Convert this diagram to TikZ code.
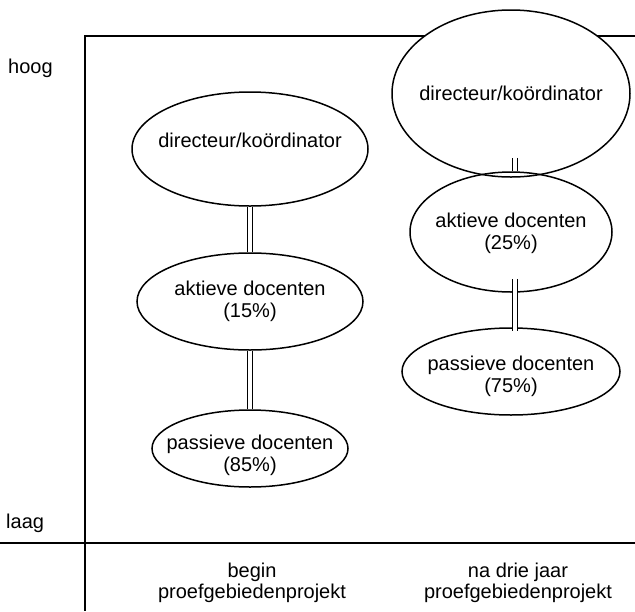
\documentclass[tikz,border=0pt]{standalone}
\usepackage{fontspec}
\setmainfont{Liberation Sans}
\usetikzlibrary{shapes.geometric}
\begin{document}
\begin{tikzpicture}[x=1pt,y=-1pt,
  oval/.style={ellipse,draw,line width=1.5pt,inner sep=0pt},
  txt/.style={font=\fontsize{20}{22}\selectfont,align=center,inner sep=0pt},
  dbl/.style={draw,line width=1.5pt,double=white,double distance=3.5pt},
  axis/.style={line width=1.2pt},
  lbl/.style={font=\fontsize{20}{21}\selectfont,align=center,inner sep=0pt}]
\useasboundingbox (0,0) rectangle (635,611);
% frame
\coordinate (tl) at (85,36);
\coordinate (tr) at (635,36);
\coordinate (bl) at (85,611);
\coordinate (al) at (0,543);
\coordinate (ar) at (635,543);
\draw[axis] (tr) -- (tl) -- (bl);
\draw[line width=1.8pt] (al) -- (ar);
\node[lbl,anchor=base west] (hoog) at (8,73) {hoog};
\node[lbl,anchor=base west] (laag) at (6,528) {laag};
% left column
\node[oval,minimum width=236pt,minimum height=114pt] (dL) at (250,149) {};
\node[oval,minimum width=226pt,minimum height=97pt] (aL) at (250,301.5) {};
\node[oval,minimum width=196pt,minimum height=77pt] (pL) at (250,448.5) {};
\node[txt] (dLt) at (250,140) {directeur/koördinator};
\node[txt] (aLt) at (250,301.5) {aktieve docenten\\(15\%)};
\node[txt] (pLt) at (250,455) {passieve docenten\\(85\%)};
% right column
\node[oval,fill=white,minimum width=238pt,minimum height=167pt] (dR) at (511,93.5) {};
\node[oval,minimum width=202pt,minimum height=120pt] (aR) at (511,232) {};
\node[oval,minimum width=218pt,minimum height=87pt] (pR) at (511,371.5) {};
\node[txt] (dRt) at (511,93) {directeur/koördinator};
\node[txt] (aRt) at (511,233) {aktieve docenten\\(25\%)};
\node[txt] (pRt) at (511,376) {passieve docenten\\(75\%)};
% connectors
\draw[dbl] (dL.south) -- (aL.north);
\draw[dbl] (aL.south) -- (pL.north);
\draw[dbl] ([xshift=4pt,yshift=20pt]dR.south) -- ([xshift=4pt]aR.north);
\draw[dbl] ([xshift=4pt,yshift=14pt]aR.south) -- ([xshift=4pt,yshift=-4pt]pR.north);
% bottom labels
\node[lbl] (b1) at (252,583) {begin\\proefgebiedenprojekt};
\node[lbl] (b2) at (518,583) {na drie jaar\\proefgebiedenprojekt};
\end{tikzpicture}
\end{document}
